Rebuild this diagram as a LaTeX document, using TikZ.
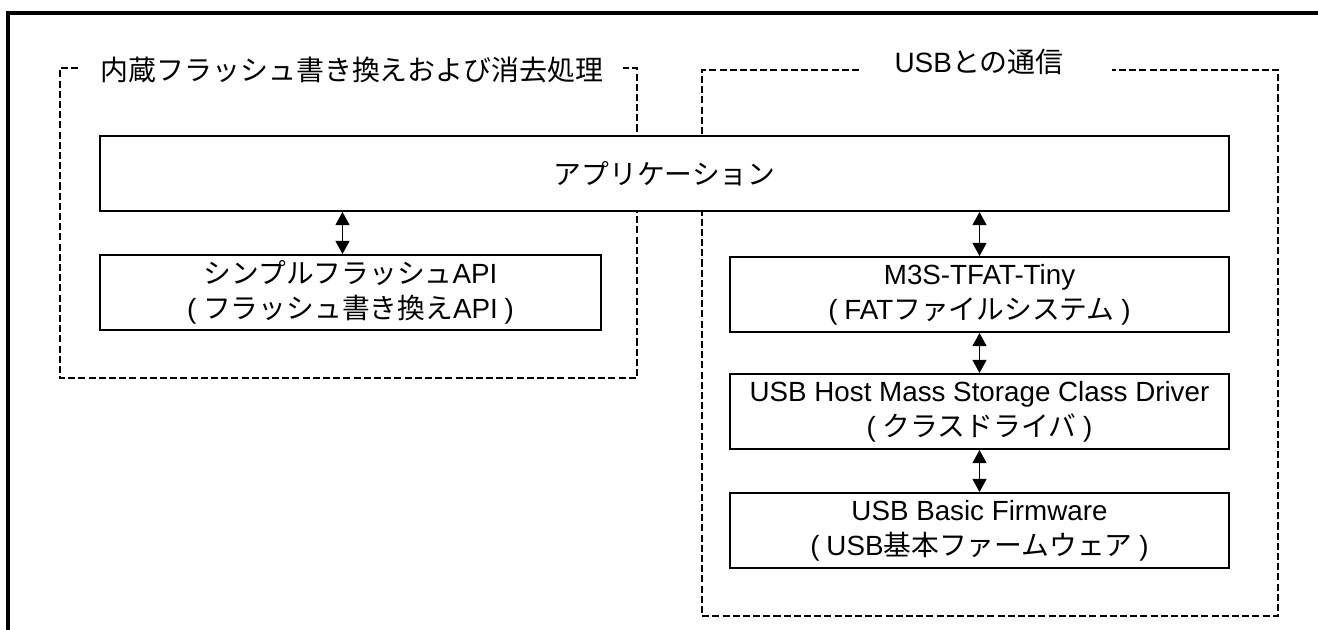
\documentclass[tikz,border=0pt]{standalone}
\usepackage{fontspec}
\setmainfont{Liberation Sans}
\newfontfamily\jp{Noto Sans CJK JP}
\usetikzlibrary{arrows.meta}
\newcommand{\lp}{(\hspace{0.25em}}
\newcommand{\rp}{\hspace{0.25em})}

\begin{document}
\begin{tikzpicture}[x=0.02cm,y=-0.02cm,
  box/.style={draw, line width=1.1pt, fill=white, align=center, inner sep=0pt,
    minimum height=1.5cm, font=\fontsize{15.8}{20}\selectfont},
  grp/.style={line width=0.85pt, dash pattern=on 4pt off 1.8pt},
  ttl/.style={inner sep=0pt, font=\fontsize{15.9}{19}\selectfont},
  arr/.style={{Triangle[length=7.5pt,width=8pt]}-{Triangle[length=7.5pt,width=8pt]}, line width=0.7pt}]
\useasboundingbox (0,0) rectangle (1318,629);

% outer frame (only top and left edge visible)
\draw[line width=1.8pt] (1330,13) -- (8,13) -- (8,640);

% dashed groups with their titles
\draw[grp] (78,68) -- (60,68) -- (60,378) -- (637,378) -- (637,68) -- (623,68);
\node[ttl] (tflash) at (352,70) {\jp 内蔵フラッシュ書き換えおよび消去処理};
\draw[grp] (859,70) -- (702,70) -- (702,616) -- (1278,616) -- (1278,70) -- (1112,70);
\node[ttl] (tusb) at (979,62) {USB{\jp との通信}};

% layers
\node[box, minimum width=22.58cm] (app) at (664.5,173.5) {\jp アプリケーション};
\node[box, minimum width=10.02cm] (sfapi) at (350.5,292.5)
  {{\jp シンプルフラッシュ}API\\\lp{\jp フラッシュ書き換え}API\rp};
\node[box, minimum width=9.98cm] (tfat) at (979.5,294.5)
  {M3S-TFAT-Tiny\\\lp FAT{\jp ファイルシステム}\rp};
\node[box, minimum width=9.98cm] (msc) at (979.5,411.5)
  {USB Host Mass Storage Class Driver\\\lp{\jp クラスドライバ}\rp};
\node[box, minimum width=9.98cm] (basic) at (979.5,530.5)
  {USB Basic Firmware\\\lp USB{\jp 基本ファームウェア}\rp};

% connections
\draw[arr] ([xshift=-0.16cm]app.south -| sfapi.north) -- ([xshift=-0.16cm]sfapi.north);
\draw[arr] (app.south -| tfat.north) -- (tfat.north);
\foreach \a/\b in {tfat/msc,msc/basic}{\draw[arr] (\a.south) -- (\b.north);}

\end{tikzpicture}
\end{document}
